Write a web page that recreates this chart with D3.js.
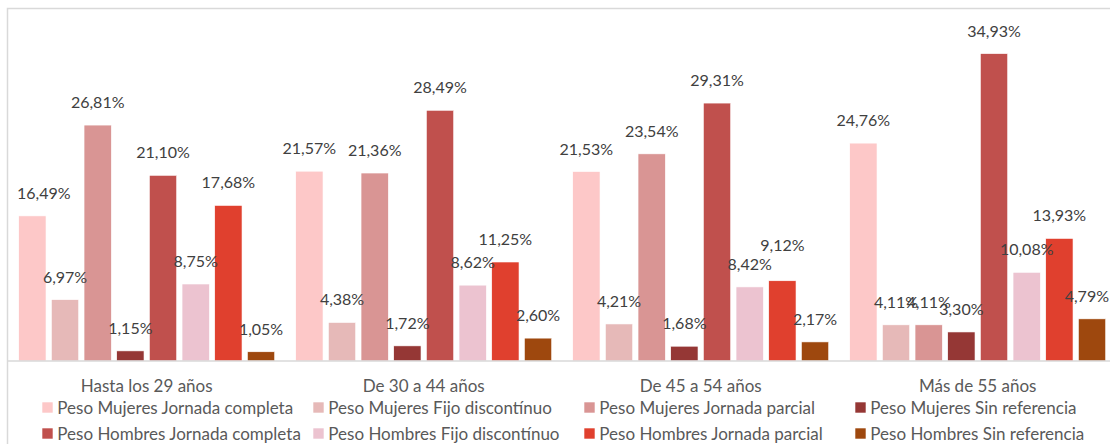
<!DOCTYPE html>
<html>
<head>
<meta charset="utf-8">
<script src="https://cdn.jsdelivr.net/npm/d3@7"></script>
<style>
  html, body { margin: 0; padding: 0; background: #ffffff; }
  svg { display: block; }
</style>
</head>
<body>
<svg id="chart" width="1110" height="444"></svg>
<script>
// ---- data ----
const categories = ["Hasta los 29 años", "De 30 a 44 años", "De 45 a 54 años", "Más de 55 años"];
const seriesNames = [
  "Peso Mujeres Jornada completa",
  "Peso Mujeres Fijo discontínuo",
  "Peso Mujeres Jornada parcial",
  "Peso Mujeres Sin referencia",
  "Peso Hombres Jornada completa",
  "Peso Hombres Fijo discontínuo",
  "Peso Hombres Jornada parcial",
  "Peso Hombres Sin referencia"
];
const mujeresJornadaCompleta = [16.49, 21.57, 21.53, 24.76];
const mujeresFijoDiscontinuo = [6.97, 4.38, 4.21, 4.11];
const mujeresJornadaParcial  = [26.81, 21.36, 23.54, 4.11];
const mujeresSinReferencia   = [1.15, 1.72, 1.68, 3.30];
const hombresJornadaCompleta = [21.10, 28.49, 29.31, 34.93];
const hombresFijoDiscontinuo = [8.75, 8.62, 8.42, 10.08];
const hombresJornadaParcial  = [17.68, 11.25, 9.12, 13.93];
const hombresSinReferencia   = [1.05, 2.60, 2.17, 4.79];
const seriesValues = [
  mujeresJornadaCompleta, mujeresFijoDiscontinuo, mujeresJornadaParcial, mujeresSinReferencia,
  hombresJornadaCompleta, hombresFijoDiscontinuo, hombresJornadaParcial, hombresSinReferencia
];
const colors = ["#fdc8c8", "#e6b9b8", "#d99594", "#953735", "#c0504d", "#ecc3d0", "#e0402e", "#9e480e"];
const yMax = 40;

// ---- layout ----
const svg = d3.select("#chart");
const W = 1110, H = 444;
const frame = { left: 7.5, top: 8.5 };
const plot = { left: 8.2, right: 1116.2, top: 9, bottom: 361 };
const font = "Lato, 'Open Sans', sans-serif";
// label nudges (as placed in the original to avoid a collision)
const labelNudge = { "De 45 a 54 años|Peso Hombres Jornada parcial": -12.5 };

// chart frame (extends past the window on right and bottom)
svg.append("rect")
  .attr("x", frame.left).attr("y", frame.top)
  .attr("width", W + 20).attr("height", H + 20)
  .attr("fill", "#ffffff")
  .attr("stroke", "#d9d9d9").attr("stroke-width", 1.5);

const x0 = d3.scaleBand().domain(categories).range([plot.left, plot.right]).padding(0);
const x1 = d3.scaleBand().domain(seriesNames).range([0, x0.bandwidth()])
  .paddingInner(0.164).paddingOuter(0.3215);
const y = d3.scaleLinear().domain([0, yMax]).range([plot.bottom, plot.top]);

const rows = [];
seriesNames.forEach((s, si) => {
  categories.forEach((c, ci) => {
    rows.push({ series: s, si, cat: c, value: seriesValues[si][ci] });
  });
});

// bars
svg.append("g").selectAll("rect").data(rows).join("rect")
  .attr("x", d => x0(d.cat) + x1(d.series))
  .attr("y", d => y(d.value))
  .attr("width", x1.bandwidth())
  .attr("height", d => y(0) - y(d.value))
  .attr("fill", d => colors[d.si])
  .attr("stroke", "#ffffff").attr("stroke-width", 0.6);

// baseline axis
const xAxis = d3.axisBottom(x0).tickSize(0).tickPadding(0);
const axG = svg.append("g").attr("transform", `translate(0,${plot.bottom})`).call(xAxis);
axG.select(".domain").attr("stroke", "#d9d9d9").attr("stroke-width", 1.5)
  .attr("d", `M${frame.left},0H${W}`);
axG.selectAll(".tick text")
  .attr("y", 31).attr("dy", null)
  .attr("fill", "#595959")
  .style("font-family", font).style("font-size", "17px");

// data labels
const fmt = v => v.toFixed(2).replace(".", ",") + "%";
const labels = svg.append("g").selectAll("text").data(rows).join("text")
  .attr("text-anchor", "middle")
  .attr("y", d => y(d.value) - 17 + (labelNudge[d.cat + "|" + d.series] || 0))
  .attr("fill", "#404040")
  .style("font-family", font).style("font-size", "16px")
  .text(d => fmt(d.value));
labels.each(function(d) {
  const w = this.getComputedTextLength();
  let cx = x0(d.cat) + x1(d.series) + x1.bandwidth() / 2;
  cx = Math.max(cx, 17 + w / 2);
  cx = Math.min(cx, 1109 - w / 2);
  d3.select(this).attr("x", cx);
});

// legend
const legend = { left: 42.3, colStep: 271, row1: 413.5, rowStep: 26, sq: 10.4 };
const lg = svg.append("g").selectAll("g").data(seriesNames).join("g")
  .attr("transform", (d, i) => `translate(${legend.left + (i % 4) * legend.colStep},${legend.row1 + Math.floor(i / 4) * legend.rowStep})`);
lg.append("rect")
  .attr("x", 0).attr("y", -11.2)
  .attr("width", legend.sq).attr("height", legend.sq)
  .attr("fill", (d, i) => colors[i]);
lg.append("text")
  .attr("x", 15).attr("y", 0)
  .attr("fill", "#595959")
  .style("font-family", font).style("font-size", "17px")
  .text(d => d);
</script>
</body>
</html>
